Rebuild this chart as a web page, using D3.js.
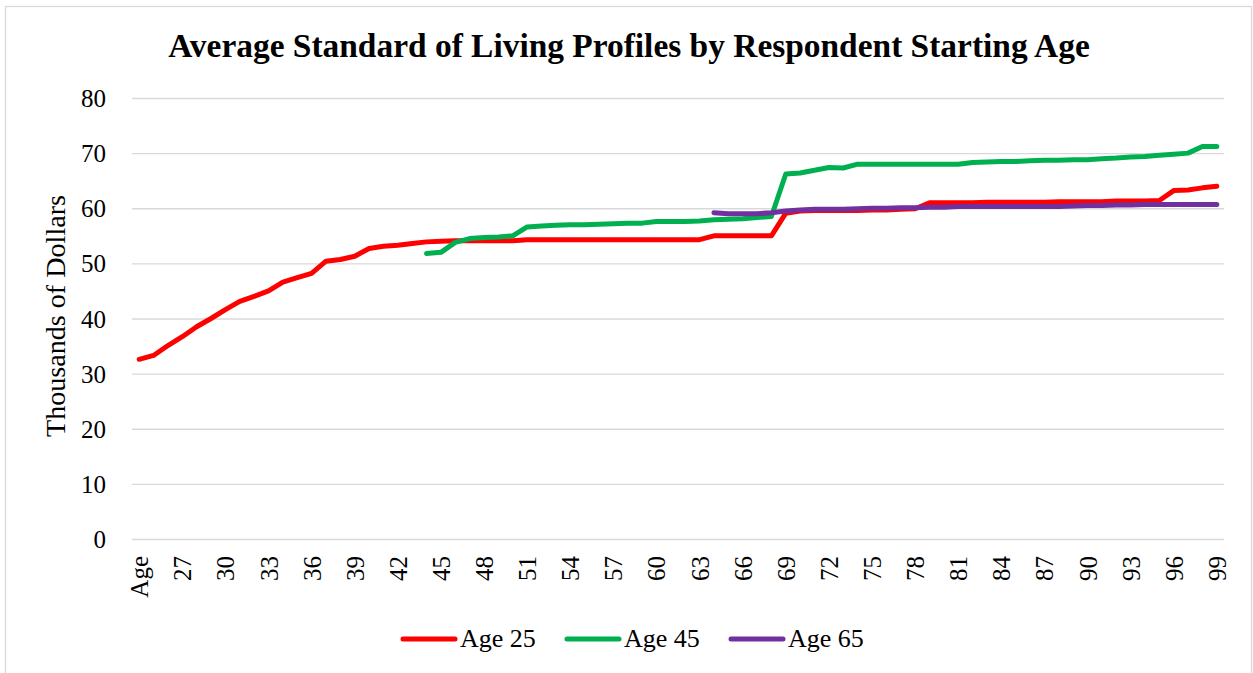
<!DOCTYPE html>
<html>
<head>
<meta charset="utf-8">
<script src="https://cdn.jsdelivr.net/npm/d3@7"></script>
<style>
  html, body { margin: 0; padding: 0; background: #fff; }
  svg { display: block; }
  text { font-family: "Liberation Serif", "DejaVu Serif", serif; fill: #000; }
</style>
</head>
<body>
<div id="chart"></div>
<script>
// categories along the x axis (the first one is the header cell "Age")
const ages = ['Age',
  '25', '26', '27', '28', '29', '30', '31', '32', '33', '34', '35', '36', '37', '38', '39',
  '40', '41', '42', '43', '44', '45', '46', '47', '48', '49', '50', '51', '52', '53', '54',
  '55', '56', '57', '58', '59', '60', '61', '62', '63', '64', '65', '66', '67', '68', '69',
  '70', '71', '72', '73', '74', '75', '76', '77', '78', '79', '80', '81', '82', '83', '84',
  '85', '86', '87', '88', '89', '90', '91', '92', '93', '94', '95', '96', '97', '98', '99'];

const yTicks = [0, 10, 20, 30, 40, 50, 60, 70, 80];

// each series begins at the category named in its "start" value
const age25Start = 'Age';
const age25 = [
  32.6, 33.3, 35.1, 36.7, 38.5, 40.0, 41.6, 43.1, 44.0, 45.0, 46.6, 47.4, 48.2, 50.4, 50.7,
  51.3, 52.7, 53.1, 53.3, 53.6, 53.9, 54.0, 54.1, 54.1, 54.1, 54.1, 54.1, 54.3, 54.3, 54.3,
  54.3, 54.3, 54.3, 54.3, 54.3, 54.3, 54.3, 54.3, 54.3, 54.3, 55.0, 55.0, 55.0, 55.0, 55.0,
  59.1, 59.5, 59.6, 59.6, 59.6, 59.6, 59.7, 59.7, 59.8, 59.9, 61.0, 61.0, 61.0, 61.0, 61.1,
  61.1, 61.1, 61.1, 61.1, 61.2, 61.2, 61.2, 61.2, 61.3, 61.3, 61.3, 61.4, 63.2, 63.3, 63.7,
  64.0];

const age45Start = '44';
const age45 = [
  51.8, 52.0, 53.8, 54.5, 54.7, 54.8, 55.0, 56.6, 56.8, 56.9, 57.0, 57.0, 57.1, 57.2, 57.3,
  57.3, 57.6, 57.6, 57.6, 57.7, 57.9, 58.0, 58.1, 58.3, 58.5, 66.2, 66.4, 66.9, 67.4, 67.3,
  68.0, 68.0, 68.0, 68.0, 68.0, 68.0, 68.0, 68.0, 68.3, 68.4, 68.5, 68.5, 68.6, 68.7, 68.7,
  68.8, 68.8, 69.0, 69.1, 69.3, 69.4, 69.6, 69.8, 70.0, 71.2, 71.2];

const age65Start = '64';
const age65 = [
  59.2, 59.0, 59.0, 59.0, 59.2, 59.5, 59.7, 59.8, 59.8, 59.8, 59.9, 60.0, 60.0, 60.1, 60.1,
  60.2, 60.2, 60.3, 60.3, 60.3, 60.3, 60.3, 60.3, 60.3, 60.3, 60.4, 60.5, 60.5, 60.6, 60.6,
  60.7, 60.7, 60.7, 60.7, 60.7, 60.7];

const seriesNames = ['Age 25', 'Age 45', 'Age 65'];
const seriesColors = ['#ff0000', '#00b050', '#7030a0'];

const width = 1253;
const height = 673;
const margin = { top: 98, right: 29, bottom: 134, left: 132 };

const svg = d3.select('#chart').append('svg')
  .attr('width', width)
  .attr('height', height);

// chart area frame
svg.append('rect')
  .attr('x', 5.5)
  .attr('y', 6.5)
  .attr('width', 1246)
  .attr('height', 680)
  .attr('fill', '#fff')
  .attr('stroke', '#d9d9d9')
  .attr('stroke-width', 1.3);

const x = d3.scalePoint()
  .domain(ages)
  .range([margin.left, width - margin.right])
  .padding(0.5);

const y = d3.scaleLinear()
  .domain([0, 80])
  .range([height - margin.bottom, margin.top]);

// gridlines
const yAxis = d3.axisLeft(y)
  .tickValues(yTicks)
  .tickSize(-(width - margin.right - margin.left))
  .tickPadding(26);

const yg = svg.append('g')
  .attr('transform', `translate(${margin.left},0)`)
  .call(yAxis);
yg.select('.domain').remove();
yg.selectAll('.tick line')
  .attr('stroke', '#d9d9d9')
  .attr('stroke-width', 1.4);
yg.selectAll('.tick text')
  .attr('font-size', 25)
  .attr('font-family', '"Liberation Serif", serif')
  .attr('dy', '0.34em');

// category labels, every third one, rotated
const xAxis = d3.axisBottom(x)
  .tickValues(ages.filter((d, i) => i % 3 === 0))
  .tickSize(0)
  .tickPadding(0);

const xg = svg.append('g')
  .attr('transform', `translate(0,${height - margin.bottom})`)
  .call(xAxis);
xg.select('.domain').remove();
xg.selectAll('.tick text')
  .attr('font-size', 25)
  .attr('font-family', '"Liberation Serif", serif')
  .attr('text-anchor', 'end')
  .attr('transform', 'rotate(-90)')
  .attr('x', -17)
  .attr('y', 0)
  .attr('dy', '0.34em');

// lines
const seriesList = [
  { start: age25Start, values: age25 },
  { start: age45Start, values: age45 },
  { start: age65Start, values: age65 }
];

const line = d3.line()
  .x((d) => x(d.age))
  .y((d) => y(d.value));

seriesList.forEach((s, k) => {
  const offset = ages.indexOf(s.start);
  const points = s.values.map((v, i) => ({ age: ages[offset + i], value: v }));
  svg.append('path')
    .datum(points)
    .attr('fill', 'none')
    .attr('stroke', seriesColors[k])
    .attr('stroke-width', 5)
    .attr('stroke-linejoin', 'round')
    .attr('stroke-linecap', 'round')
    .attr('d', line);
});

// title
const title = svg.append('text')
  .attr('x', 629)
  .attr('y', 57)
  .attr('text-anchor', 'middle')
  .attr('font-weight', 'bold')
  .attr('font-size', 30)
  .text('Average Standard of Living Profiles by Respondent Starting Age');
const titleWidth = title.node().getComputedTextLength();
title.attr('font-size', 30 * 922 / titleWidth);

// y axis title
const yTitle = svg.append('text')
  .attr('transform', 'translate(65,316) rotate(-90)')
  .attr('text-anchor', 'middle')
  .attr('font-size', 25)
  .text('Thousands of Dollars');
const yTitleWidth = yTitle.node().getComputedTextLength();
yTitle.attr('font-size', 25 * 242 / yTitleWidth);

// legend
const legendX = [401, 565, 729];
const legend = svg.append('g');
seriesNames.forEach((name, k) => {
  legend.append('line')
    .attr('x1', legendX[k] + 2)
    .attr('x2', legendX[k] + 54)
    .attr('y1', 639)
    .attr('y2', 639)
    .attr('stroke', seriesColors[k])
    .attr('stroke-width', 5)
    .attr('stroke-linecap', 'round');
  legend.append('text')
    .attr('x', legendX[k] + 59)
    .attr('y', 647)
    .attr('font-size', 26)
    .text(name);
});
</script>
</body>
</html>
